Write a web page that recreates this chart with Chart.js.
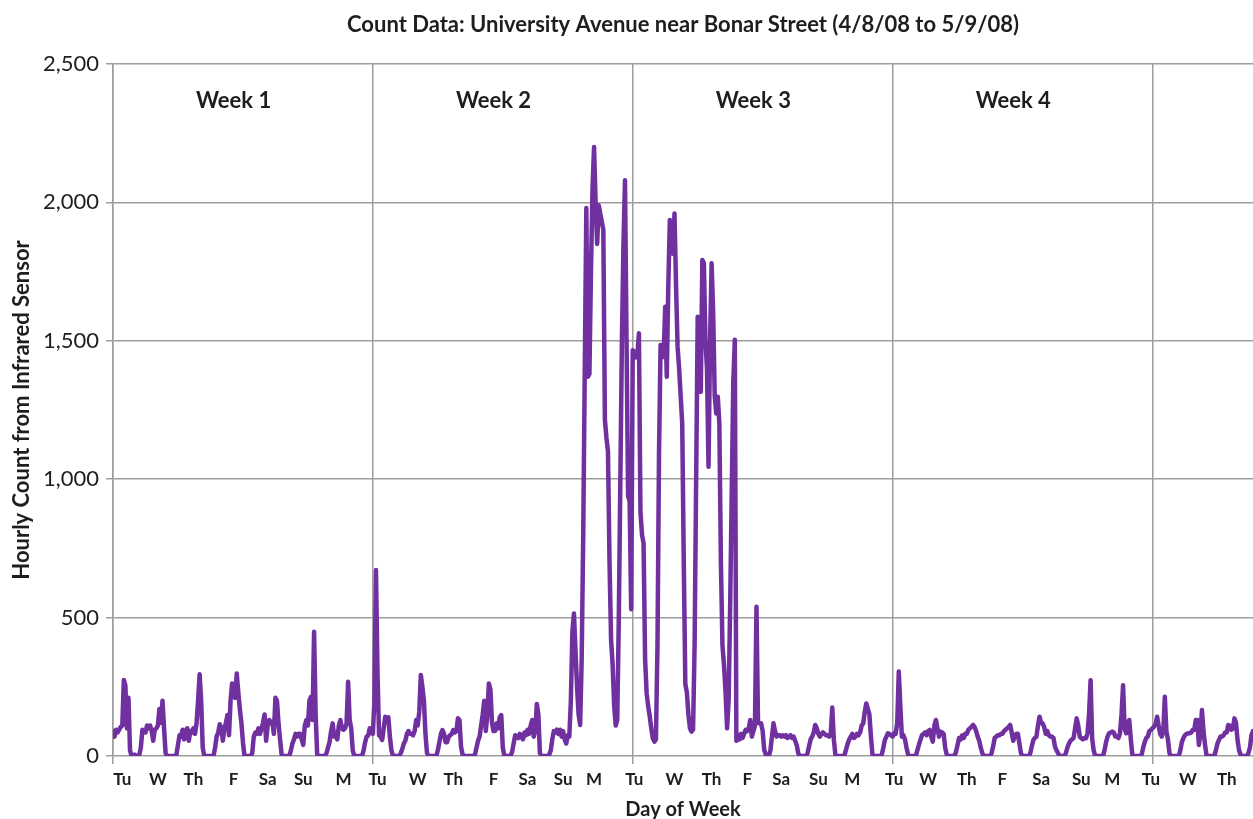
<!DOCTYPE html>
<html>
<head>
<meta charset="utf-8">
<title>Count Data: University Avenue near Bonar Street</title>
<script src="https://cdn.jsdelivr.net/npm/chart.js@4.4.1/dist/chart.umd.min.js"></script>
<style>
  html, body { margin: 0; padding: 0; background: #fff; }
  #wrap { width: 1253px; height: 819px; }
</style>
</head>
<body>
<div id="wrap"><canvas id="countChart"></canvas></div>
<script>
// hourly counts, 24 values per day, one array per week
const week1 = [
  90, 70, 95, 85, 95, 105, 110, 275, 255, 100, 210, 20, 0, 0, 5, 0, 0, 5, 30, 95, 90, 85, 110, 100,
  110, 90, 55, 95, 100, 110, 170, 120, 200, 100, 10, 0, 0, 0, 0, 0, 0, 5, 40, 75, 70, 95, 60, 90,
  100, 55, 90, 85, 100, 80, 118, 200, 295, 200, 30, 0, 0, 0, 0, 0, 0, 0, 30, 70, 85, 115, 100, 55,
  100, 120, 148, 75, 200, 262, 255, 210, 298, 230, 170, 120, 50, 0, 0, 0, 0, 0, 10, 70, 85, 80, 100, 80,
  100, 120, 150, 55, 110, 130, 120, 125, 80, 210, 200, 118, 60, 5, 0, 0, 0, 0, 0, 20, 45, 60, 80, 70,
  80, 80, 60, 40, 110, 130, 110, 200, 214, 130, 449, 150, 5, 0, 0, 0, 0, 0, 10, 30, 50, 90, 118, 70,
  70, 60, 110, 130, 100, 95, 100, 118, 268, 130, 100, 20, 0, 0, 0, 0, 0, 0, 20, 50, 70, 75, 100, 90
];
const week2 = [
  80, 200, 672, 300, 75, 70, 58, 100, 142, 130, 140, 70, 20, 0, 0, 0, 0, 0, 10, 25, 45, 55, 80, 90,
  80, 80, 75, 90, 130, 110, 160, 293, 250, 200, 80, 10, 0, 0, 0, 0, 0, 0, 20, 50, 80, 94, 80, 50,
  50, 70, 75, 80, 94, 85, 90, 136, 130, 34, 5, 0, 0, 0, 0, 0, 0, 0, 5, 30, 55, 70, 110, 150,
  200, 90, 150, 262, 240, 120, 90, 90, 118, 100, 140, 148, 30, 0, 0, 0, 0, 0, 15, 45, 75, 70, 65, 80,
  70, 60, 85, 75, 95, 80, 110, 130, 70, 90, 188, 150, 10, 0, 0, 0, 0, 0, 5, 20, 60, 90, 85, 95,
  80, 95, 70, 90, 60, 45, 75, 70, 200, 450, 515, 380, 250, 150, 112, 350, 800, 1400, 1980, 1370, 1380, 1750, 2050, 2200,
  2000, 1850, 1990, 1960, 1930, 1900, 1215, 1150, 1100, 700, 420, 330, 180, 110, 130, 500, 1000, 1500, 1850, 2080, 1500, 940, 920, 530
];
const week3 = [
  1466, 1460, 1440, 1450, 1527, 880, 800, 768, 350, 226, 180, 142, 100, 64, 52, 60, 400, 1100, 1485, 1440, 1450, 1623, 1370, 1700,
  1936, 1850, 1815, 1960, 1700, 1478, 1400, 1300, 1200, 700, 260, 230, 150, 100, 88, 95, 400, 1000, 1587, 1500, 1316, 1792, 1780, 1500,
  1400, 1045, 1500, 1780, 1600, 1300, 1237, 1298, 1200, 700, 400, 330, 230, 100, 200, 550, 950, 1350, 1504, 55, 75, 60, 80, 65,
  80, 95, 90, 100, 130, 70, 90, 110, 539, 120, 118, 118, 90, 22, 5, 0, 0, 20, 70, 118, 90, 70, 75, 75,
  70, 75, 70, 75, 65, 70, 75, 65, 70, 55, 40, 10, 0, 0, 0, 0, 0, 10, 35, 60, 70, 85, 112, 100,
  80, 70, 80, 85, 80, 75, 75, 70, 80, 175, 60, 5, 0, 0, 0, 0, 0, 5, 25, 45, 60, 70, 80, 65,
  70, 80, 75, 85, 110, 118, 160, 190, 170, 150, 70, 5, 0, 0, 0, 0, 0, 5, 30, 58, 70, 82, 80, 75
];
const week4 = [
  70, 82, 80, 120, 305, 180, 70, 75, 60, 30, 5, 0, 0, 0, 0, 0, 20, 40, 58, 75, 80, 85, 75, 90,
  94, 70, 52, 110, 130, 100, 70, 88, 85, 80, 30, 5, 0, 0, 0, 0, 0, 15, 40, 65, 60, 75, 65, 80,
  80, 95, 100, 106, 112, 105, 90, 70, 55, 30, 10, 0, 0, 0, 0, 0, 10, 35, 65, 70, 75, 75, 80, 80,
  90, 95, 100, 105, 112, 85, 55, 70, 80, 80, 45, 10, 0, 0, 0, 0, 0, 10, 35, 58, 65, 70, 110, 142,
  120, 118, 105, 80, 90, 75, 70, 70, 65, 34, 20, 10, 0, 0, 0, 0, 10, 30, 45, 55, 60, 65, 100, 136,
  110, 70, 64, 60, 65, 64, 82, 150, 274, 64, 20, 0, 0, 0, 0, 0, 0, 20, 50, 70, 82, 85, 88, 85,
  70, 70, 65, 82, 150, 256, 100, 82, 120, 130, 60, 5, 0, 0, 0, 0, 0, 5, 30, 50, 65, 70, 90, 94
];
const week5 = [
  100, 106, 115, 142, 110, 80, 70, 90, 214, 90, 60, 10, 0, 0, 0, 0, 0, 0, 20, 50, 65, 75, 80, 82,
  82, 85, 94, 94, 130, 130, 40, 80, 166, 90, 40, 0, 0, 0, 0, 0, 0, 20, 45, 58, 70, 70, 75, 85,
  85, 112, 110, 95, 100, 136, 120, 58, 20, 5, 0, 0, 0, 0, 10, 30, 76, 90
];

const weekLabels = ["Week 1", "Week 2", "Week 3", "Week 4"];
const weekStartHours = [0, 168, 336, 504, 672];
const dayNames = [
  "Tu", "W", "Th", "F", "Sa", "Su", "M",
  "Tu", "W", "Th", "F", "Sa", "Su", "M",
  "Tu", "W", "Th", "F", "Sa", "Su", "M",
  "Tu", "W", "Th", "F", "Sa", "Su", "M",
  "Tu", "W", "Th"
];
// where each day label sits along the hour axis
const dayLabelHours = [
  6, 29, 52, 78, 100, 123, 149,
  171, 197, 220, 246, 268, 291, 311,
  337, 363, 387, 410, 432, 456, 478,
  505, 527, 552, 575, 600, 626, 646,
  671, 695, 720
];

const textColor = "#1e1e1e";
const gridColor = "#9d9d9d";
const fontFamily = "Lato, 'Open Sans', sans-serif";

const weeks = [week1, week2, week3, week4, week5];
const points = [];
weeks.forEach((w, wi) => {
  w.forEach((v, i) => points.push({ x: wi * 168 + i, y: v }));
});

const xTickDefs = weekStartHours
  .map(h => ({ value: h, label: "", week: true }))
  .concat(dayNames.map((d, i) => ({ value: dayLabelHours[i], label: d, week: false })))
  .sort((a, b) => a.value - b.value);

const weekLabelPlugin = {
  id: "weekLabels",
  afterDatasetsDraw(chart) {
    const { ctx, scales: { x, y } } = chart;
    ctx.save();
    ctx.font = "bold 22px " + fontFamily;
    ctx.fillStyle = textColor;
    ctx.textAlign = "center";
    ctx.textBaseline = "middle";
    weekLabels.forEach((t, i) => {
      ctx.fillText(t, x.getPixelForValue(weekStartHours[i] + 78), y.getPixelForValue(2365));
    });
    ctx.restore();
  }
};

new Chart(document.getElementById("countChart"), {
  type: "line",
  data: {
    datasets: [{
      data: points,
      borderColor: "#7030A0",
      borderWidth: 4.5,
      borderJoinStyle: "round",
      borderCapStyle: "round",
      pointRadius: 0,
      tension: 0,
      fill: false
    }]
  },
  options: {
    responsive: true,
    maintainAspectRatio: false,
    animation: false,
    layout: { padding: 0 },
    plugins: {
      legend: { display: false },
      tooltip: { enabled: false },
      title: {
        display: true,
        fullSize: false,
        text: "Count Data: University Avenue near Bonar Street (4/8/08 to 5/9/08)",
        color: textColor,
        font: { family: fontFamily, size: 22, weight: "bold" },
        padding: { top: 12, bottom: 25.6 }
      }
    },
    scales: {
      x: {
        type: "linear",
        min: 0,
        max: 737,
        afterBuildTicks: s => { s.ticks = xTickDefs.map(t => ({ value: t.value })); },
        afterFit: s => { s.height = 63; },
        ticks: {
          autoSkip: false,
          maxRotation: 0,
          padding: 5,
          color: textColor,
          font: { family: fontFamily, size: 17, weight: "bold" },
          callback: (v, i) => xTickDefs[i] ? xTickDefs[i].label : ""
        },
        grid: {
          color: c => (xTickDefs[c.index] && xTickDefs[c.index].week) ? gridColor : "rgba(0,0,0,0)",
          lineWidth: 1.5,
          tickLength: 8
        },
        border: { display: false },
        title: {
          display: true,
          text: "Day of Week",
          color: textColor,
          font: { family: fontFamily, size: 20, weight: "bold" },
          padding: { top: 0, bottom: -3 }
        }
      },
      y: {
        min: 0,
        max: 2500,
        afterFit: s => { s.width = 113; },
        ticks: {
          stepSize: 500,
          padding: 7,
          color: textColor,
          font: { family: fontFamily, size: 22 },
          callback: v => v.toLocaleString("en-US")
        },
        grid: { color: gridColor, lineWidth: 1.5, tickLength: 7 },
        border: { color: gridColor, width: 1.5 },
        title: {
          display: true,
          text: "Hourly Count from Infrared Sensor",
          color: textColor,
          font: { family: fontFamily, size: 22, weight: "bold" },
          padding: { top: 9, bottom: 0 }
        }
      }
    }
  },
  plugins: [weekLabelPlugin]
});
</script>
</body>
</html>
